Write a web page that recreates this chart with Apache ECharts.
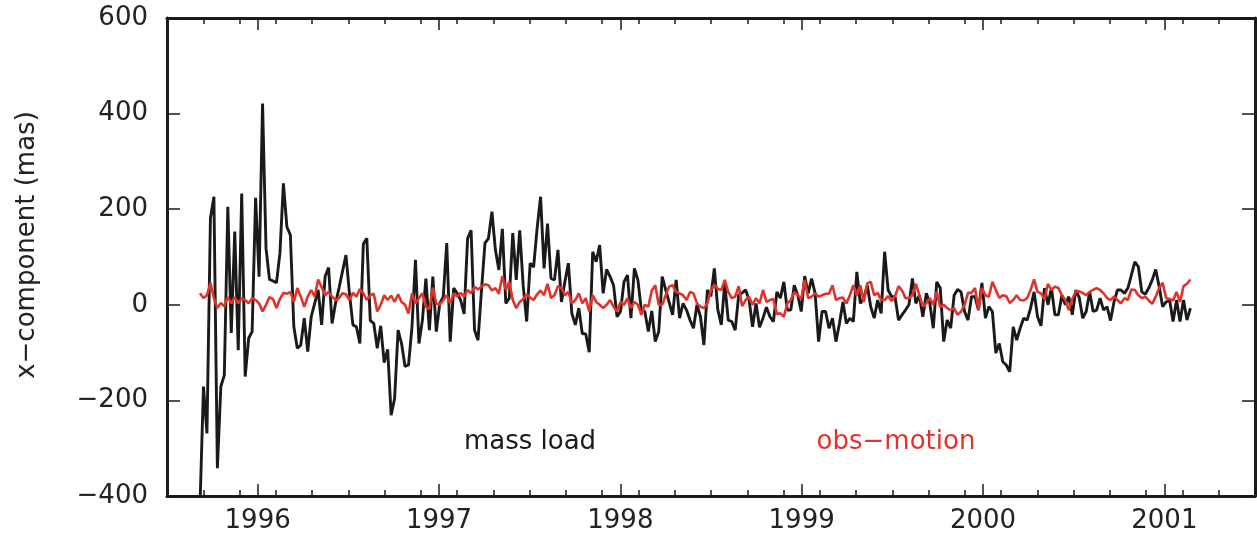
<!DOCTYPE html>
<html>
<head>
<meta charset="utf-8">
<script src="https://cdn.jsdelivr.net/npm/echarts@6/dist/echarts.min.js"></script>
<style>
html,body{margin:0;padding:0;background:#fff;}
#c{width:1257px;height:538px;}
</style>
</head>
<body>
<div id="c"></div>
<script>
// ---- data (weekly samples) ----
const startYear = 1995.682;          // first weekly sample (decimal year)
const weekStep = 7 / 365.25;         // weekly sampling in years

const massLoad = [
 -420,-171,-269,181,226,-342,-171,-147,205,-59,153,-95,233,-150,-70,-56,224,59,421,118,
 53,50,46,108,254,163,146,-46,-91,-84,-28,-98,-25,3,31,-42,59,78,-39,3,
 35,70,104,24,-42,-46,-81,127,139,-33,-39,-91,-44,-121,-93,-231,-196,-53,-81,-129,
 -126,-46,94,-81,-32,55,-53,59,-56,3,17,129,-77,35,24,10,-19,139,156,-53,
 -74,30,129,139,195,115,73,159,3,14,150,52,156,40,-35,87,79,160,226,76,
 170,55,52,115,6,48,87,-18,-42,-7,-60,-61,-99,111,90,125,24,74,59,41,
 -25,-14,48,62,-28,76,52,-11,-14,-56,-13,-77,-56,59,31,5,-21,52,-28,3,
 -11,-32,-49,0,-25,-84,31,18,76,-10,-42,45,-32,-35,-53,20,25,31,10,-46,
 3,-47,-28,-5,-25,-35,27,14,48,-11,-11,41,20,-14,60,24,55,24,-77,-14,
 -14,-49,-28,-77,-39,6,-39,-28,-35,69,3,14,41,-4,-28,10,-18,111,31,17,
 17,-32,-21,-11,0,55,3,20,-25,24,3,-49,48,35,-77,-32,-49,20,32,27,
 -14,-32,17,17,-11,46,-28,-4,-14,-101,-81,-119,-126,-140,-46,-74,-49,-28,-32,-7,
 27,-25,-44,35,0,35,-21,-21,20,0,17,-21,31,15,-28,-14,27,-14,-11,14,
 -11,-4,-33,6,31,31,24,35,62,90,80,27,22,35,52,74,38,-4,6,10,
 -35,10,-35,10,-32,-7
];

const obsMotion = [
 24,14,20,46,14,-7,4,-3,16,3,16,3,14,10,3,14,10,3,-14,0,
 16,12,-7,12,25,23,27,6,35,17,-4,17,31,17,53,37,20,27,17,10,
 14,24,22,10,25,17,33,24,10,20,23,-14,0,20,10,19,6,22,6,0,
 -18,24,3,14,24,-4,-9,36,2,0,10,20,3,24,17,25,17,31,24,38,
 32,38,43,41,30,35,23,60,31,48,10,-7,6,12,22,15,10,22,30,20,
 44,14,20,39,35,20,27,3,10,24,3,14,-14,20,6,0,-7,0,10,-4,
 -14,6,0,14,-7,6,0,-21,0,-4,30,41,0,0,20,38,41,27,24,20,
 10,27,24,3,-4,-7,3,30,42,33,31,52,27,14,17,39,-3,10,17,0,
 14,3,31,6,10,12,-19,-18,-25,3,10,27,20,12,52,14,17,24,17,20,
 23,23,41,10,14,15,3,20,41,20,41,6,45,48,20,25,10,10,18,8,
 18,39,30,14,14,20,44,20,-4,3,14,0,27,-5,0,-7,-11,-7,-21,-14,
 0,25,25,35,-11,35,20,17,48,31,14,20,18,4,10,20,10,9,14,31,
 53,27,24,12,44,31,38,35,20,10,-11,12,28,28,25,20,27,31,35,31,
 24,14,10,17,10,3,14,10,32,31,20,14,17,9,2,17,35,46,14,12,
 9,27,6,39,44,53
];

const yearTicks = [1996, 1997, 1998, 1999, 2000, 2001];
const xRange = [1995.5, 2001.5];
const yRange = [-400, 600];
const yStep = 200;

// minor x ticks every 0.2 year (not on whole years)
const minorTicks = [];
for (let k = 0; k <= 30; k++) {
  const v = Math.round((xRange[0] + k * 0.2) * 10) / 10;
  if (v > xRange[0] && v < xRange[1] && Math.abs(v - Math.round(v)) > 1e-6) minorTicks.push(v);
}

const toPairs = arr => arr.map((v, i) => [startYear + i * weekStep, v]);

const FONT = 'DejaVu Sans';
const INK = '#1a1a1a';
const RED = '#e2322a';

const chart = echarts.init(document.getElementById('c'), null, {renderer: 'canvas'});

const gridRect = {left: 167, right: 2, top: 18, bottom: 42};
const frameLine = {show: true, onZero: false, lineStyle: {color: INK, width: 3}};
const noLine = {show: false, onZero: false};

const option = {
  animation: false,
  backgroundColor: '#fff',
  grid: [Object.assign({}, gridRect), Object.assign({}, gridRect)],
  xAxis: [
    { type: 'value', gridIndex: 0, position: 'bottom', min: xRange[0], max: xRange[1],
      axisLine: frameLine, splitLine: {show: false},
      axisTick: {show: true, inside: true, length: 12, customValues: yearTicks, lineStyle: {color: INK, width: 1.5}},
      axisLabel: {show: true, customValues: yearTicks, margin: 12, color: '#222', fontFamily: FONT, fontSize: 26,
                  formatter: v => String(Math.round(v))} },
    { type: 'value', gridIndex: 0, position: 'top', min: xRange[0], max: xRange[1],
      axisLine: frameLine, splitLine: {show: false},
      axisTick: {show: true, inside: true, length: 12, customValues: yearTicks, lineStyle: {color: INK, width: 1.5}},
      axisLabel: {show: false} },
    { type: 'value', gridIndex: 1, position: 'bottom', min: xRange[0], max: xRange[1],
      axisLine: noLine, splitLine: {show: false},
      axisTick: {show: true, inside: true, length: 6, customValues: minorTicks, lineStyle: {color: INK, width: 1.5}},
      axisLabel: {show: false} },
    { type: 'value', gridIndex: 1, position: 'top', min: xRange[0], max: xRange[1],
      axisLine: noLine, splitLine: {show: false},
      axisTick: {show: true, inside: true, length: 6, customValues: minorTicks, lineStyle: {color: INK, width: 1.5}},
      axisLabel: {show: false} }
  ],
  yAxis: [
    { type: 'value', gridIndex: 0, position: 'left', min: yRange[0], max: yRange[1], interval: yStep,
      axisLine: frameLine, splitLine: {show: false},
      axisTick: {show: true, inside: true, length: 13, lineStyle: {color: INK, width: 1.5}},
      axisLabel: {show: true, margin: 19, color: '#222', fontFamily: FONT, fontSize: 26,
                  formatter: v => (v < 0 ? '\u2212' + Math.abs(v) : String(v))} },
    { type: 'value', gridIndex: 0, position: 'right', min: yRange[0], max: yRange[1], interval: yStep,
      axisLine: frameLine, splitLine: {show: false},
      axisTick: {show: true, inside: true, length: 13, lineStyle: {color: INK, width: 1.5}},
      axisLabel: {show: false} },
    { type: 'value', gridIndex: 1, min: yRange[0], max: yRange[1], show: false, axisLine: noLine }
  ],
  series: [
    { name: 'mass load', type: 'line', xAxisIndex: 0, yAxisIndex: 0, data: toPairs(massLoad),
      showSymbol: false, symbol: 'none', clip: true,
      lineStyle: {color: INK, width: 2.9}, z: 3 },
    { name: 'obs\u2212motion', type: 'line', xAxisIndex: 0, yAxisIndex: 0, data: toPairs(obsMotion),
      showSymbol: false, symbol: 'none', clip: true,
      lineStyle: {color: RED, width: 2.6}, z: 4 }
  ],
  graphic: [
    { type: 'text', x: 27, y: 245, rotation: Math.PI / 2,
      style: {text: 'x\u2212component (mas)', fill: '#222', font: '26px "' + FONT + '"',
              textAlign: 'center', textVerticalAlign: 'middle'} },
    { type: 'text', x: 530, y: 442,
      style: {text: 'mass load', fill: INK, font: '26px "' + FONT + '"', textAlign: 'center', textVerticalAlign: 'middle'} },
    { type: 'text', x: 896, y: 442,
      style: {text: 'obs\u2212motion', fill: RED, font: '26px "' + FONT + '"', textAlign: 'center', textVerticalAlign: 'middle'} }
  ]
};

chart.setOption(option);
</script>
</body>
</html>
